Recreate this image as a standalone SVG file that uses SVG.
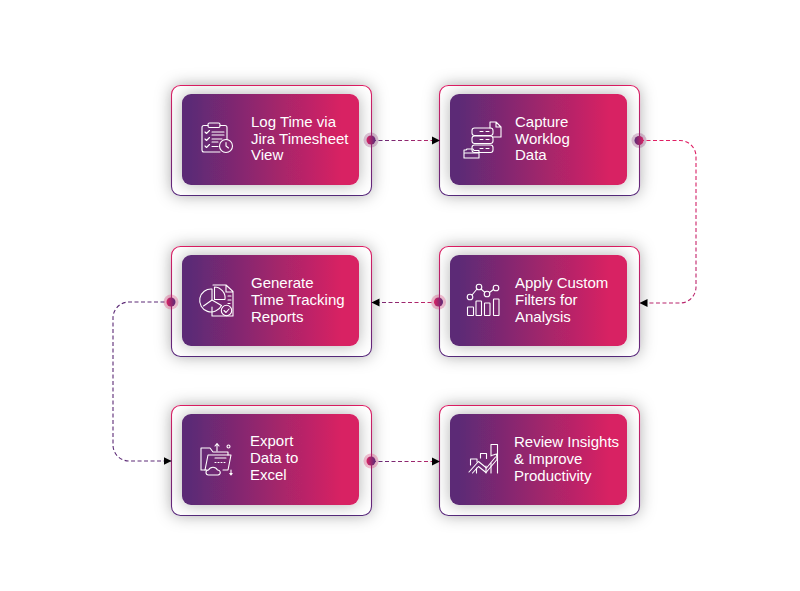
<svg xmlns="http://www.w3.org/2000/svg" width="800" height="591" viewBox="0 0 800 591">
<style>
.card{fill:#fff;stroke:url(#vb);stroke-width:1.1}
.inner{fill:url(#hg)}
.t{font-family:"Liberation Sans",Arial,sans-serif;font-size:15px;fill:#fff}
.i{fill:none;stroke:#fff;stroke-width:1.1;stroke-linejoin:round;stroke-linecap:round}
.c{fill:none;stroke-width:1.1;stroke-dasharray:4 2.500}
.halo{opacity:.28}
</style>
<defs>
<linearGradient id="hg" x1="0" x2="1" y1="0" y2="0"><stop offset=".05" stop-color="#5c2a76"/><stop offset=".9" stop-color="#d82263"/></linearGradient>
<linearGradient id="vb" x1="0" x2="0" y1="0" y2="1"><stop offset="0" stop-color="#e01f64"/><stop offset="1" stop-color="#57297c"/></linearGradient>
<linearGradient id="dot" x1="0" x2="1" y1="0" y2="0"><stop offset="0" stop-color="#5c2a76"/><stop offset="1" stop-color="#d82263"/></linearGradient>
<linearGradient id="dotr" x1="1" x2="0" y1="0" y2="0"><stop offset="0" stop-color="#5c2a76"/><stop offset="1" stop-color="#d82263"/></linearGradient>
<linearGradient id="cv" gradientUnits="userSpaceOnUse" x1="0" y1="140" x2="0" y2="303"><stop offset="0" stop-color="#e01f64"/><stop offset="1" stop-color="#b8246c"/></linearGradient>
<linearGradient id="c1" gradientUnits="userSpaceOnUse" x1="372" y1="0" x2="440" y2="0"><stop offset="0" stop-color="#5c2a76"/><stop offset="1" stop-color="#c42468"/></linearGradient>
<linearGradient id="c3" gradientUnits="userSpaceOnUse" x1="372" y1="0" x2="438" y2="0"><stop offset="0" stop-color="#6d2a74"/><stop offset="1" stop-color="#cf2366"/></linearGradient>
<filter id="sh" x="-25%" y="-40%" width="150%" height="180%"><feDropShadow dx="0" dy="0" stdDeviation="8" flood-color="#000" flood-opacity=".3"/></filter>
<filter id="sh2" x="-25%" y="-40%" width="150%" height="180%"><feDropShadow dx="0" dy="0" stdDeviation="8" flood-color="#000" flood-opacity=".3"/></filter>
<marker id="ah" markerUnits="userSpaceOnUse" markerWidth="9" markerHeight="9" refX="8" refY="4.500" orient="auto"><path d="M0 .5L8 4.500L0 8.500z" fill="#000"/></marker>
</defs>

<g id="n1">
<rect class="card" filter="url(#sh)" x="171.500" y="85.500" width="200" height="110" rx="9"/>
<rect class="inner" filter="url(#sh2)" x="182" y="94" width="177" height="91" rx="9"/>
<g class="i">
<path d="M208 125.500h-4a2 2 0 0 0-2 2v22.500a2 2 0 0 0 2 2h16M220 125.500h5a2 2 0 0 1 2 2v12"/>
<rect x="208" y="123" width="12" height="4.500" rx="1.500"/>
<path d="M205 132l1.500 1.500 3-3M205 139l1.500 1.500 3-3M205 146l1.500 1.500 3-3M212 132h12M212 135h12M212 139h10M212 142h6M212 146.500h6"/>
<circle cx="226" cy="146" r="6.500"/>
<path d="M226 142.500v3.500l2.500 2"/>
</g>
<text class="t"><tspan x="251" y="127">Log Time via</tspan><tspan x="251" y="144">Jira Timesheet</tspan><tspan x="251" y="160">View</tspan></text>
</g>

<g id="n2">
<rect class="card" filter="url(#sh)" x="439.500" y="85.500" width="200" height="110" rx="9"/>
<rect class="inner" filter="url(#sh2)" x="450" y="94" width="177" height="91" rx="9"/>
<g class="i">
<rect x="472" y="128" width="21" height="7.500" rx="2.500"/>
<rect x="472" y="136" width="21" height="7.500" rx="2.500"/>
<rect x="472" y="145" width="21" height="7.500" rx="2.500"/>
<path d="M480 131.500h3M486 131.500h3M480 139.500h3M486 139.500h3M480 148.500h3M486 148.500h3"/>
<path d="M490 128v-6h6l5 5v10h-8M496 122v5h5"/>
<path d="M479 158h-15v-8h2l1-1h6l1 1.500h5zM465 153h14"/>
</g>
<text class="t"><tspan x="515" y="127">Capture</tspan><tspan x="515" y="144">Worklog</tspan><tspan x="515" y="160">Data</tspan></text>
</g>

<g id="n3">
<rect class="card" filter="url(#sh)" x="439.500" y="246.500" width="200" height="110" rx="9"/>
<rect class="inner" filter="url(#sh2)" x="450" y="255" width="177" height="91" rx="9"/>
<g class="i">
<rect x="467.500" y="307" width="6" height="8.500" rx=".5"/>
<rect x="476" y="301" width="5.500" height="14.500" rx=".5"/>
<rect x="484.500" y="303" width="5.500" height="12.500" rx=".5"/>
<rect x="493.500" y="299" width="5.500" height="16.500" rx=".5"/>
<circle cx="470" cy="297" r="2.800"/>
<circle cx="479" cy="287" r="2.800"/>
<circle cx="487" cy="294" r="2.800"/>
<circle cx="496" cy="288" r="2.800"/>
<path d="M472 295l5-6M481 289l3.800 3.300M489.500 292.500l4-3"/>
</g>
<text class="t"><tspan x="515" y="288">Apply Custom</tspan><tspan x="515" y="305">Filters for</tspan><tspan x="515" y="322">Analysis</tspan></text>
</g>

<g id="n4">
<rect class="card" filter="url(#sh)" x="171.500" y="246.500" width="200" height="110" rx="9"/>
<rect class="inner" filter="url(#sh2)" x="182" y="255" width="177" height="91" rx="9"/>
<g class="i">
<path d="M212 289a11.500 11.500 0 1 0 9.500 16.500l-9.500-5.500z"/>
<path d="M212 300l-8.500 6"/>
<path d="M214.500 287v12.500h10.500a11 11 0 0 0-10.500-12.500z"/>
<path d="M213 285h13l7 6.500v24.500h-21v-9M233 292h-7v-7"/>
<path d="M228 296h3M228 300h3M228 303.500h2"/>
<circle cx="226.500" cy="310.500" r="5.200"/>
<path d="M224 310.500l2 2 3-3.500"/>
</g>
<text class="t"><tspan x="251" y="288">Generate</tspan><tspan x="251" y="305">Time Tracking</tspan><tspan x="251" y="322">Reports</tspan></text>
</g>

<g id="n5">
<rect class="card" filter="url(#sh)" x="171.500" y="405.500" width="200" height="110" rx="9"/>
<rect class="inner" filter="url(#sh2)" x="182" y="414" width="177" height="91" rx="9"/>
<g class="i">
<path d="M205 470h-4v-22h9l3 4h15v3"/>
<path d="M205 470l3-15h23l-3 15h-5M205 470h2"/>
<path d="M209 475h-.5a2.500 2.500 0 0 1 0-5a5 5 0 0 1 9 0a2.500 2.500 0 0 1 .5 5z"/>
<path d="M217 451v-7M215 446l2-2.500 2 2.500"/>
<circle cx="228.500" cy="446.500" r="1.500"/>
<path d="M231 470v4"/><path d="M229.800 473.500h2.400l-1.200 1.500z"/>
<path d="M215 458h11M215 462.500h1M218 462.500h1M221 462.500h1M224 462.500h1"/>
</g>
<text class="t"><tspan x="250" y="446">Export</tspan><tspan x="250" y="463">Data to</tspan><tspan x="250" y="480">Excel</tspan></text>
</g>

<g id="n6">
<rect class="card" filter="url(#sh)" x="439.500" y="405.500" width="200" height="110" rx="9"/>
<rect class="inner" filter="url(#sh2)" x="450" y="414" width="177" height="91" rx="9"/>
<g class="i">
<path d="M470.500 465v-6h6.500v3M480.500 458v-4.500h6v5M491 456v-11.500h6.500v28.500M476.500 473v-5M486 473v-7M491 473v-10"/>
<path d="M469 472l9.500-10.500 8 6.500 9-11"/>
<path d="M472.500 473l6-6.500 7.500 6 11-13"/>
<path d="M491.500 455.500l5-1.500 .5 5"/>
</g>
<text class="t"><tspan x="514" y="447">Review Insights</tspan><tspan x="514" y="464">&amp; Improve</tspan><tspan x="514" y="481">Productivity</tspan></text>
</g>

<g id="connectors">
<path class="c" stroke="url(#c1)" marker-end="url(#ah)" d="M372 140.500H440"/>
<path class="c" stroke="url(#cv)" marker-end="url(#ah)" d="M640 140.500H680a16 16 0 0 1 16 16V287a16 16 0 0 1-16 16H639.500"/>
<path class="c" stroke="url(#c3)" marker-end="url(#ah)" d="M438 302.500H371.500"/>
<path class="c" stroke="#5c2a76" marker-end="url(#ah)" d="M171 302H129a16 16 0 0 0-16 16V445a16 16 0 0 0 16 16H171.500"/>
<path class="c" stroke="url(#c1)" marker-end="url(#ah)" d="M372 461.500H440"/>
<circle class="halo" cx="371" cy="140" r="7.500" fill="#8a2a70"/><circle cx="371" cy="140" r="4.500" fill="url(#dotr)"/>
<circle class="halo" cx="639" cy="140.500" r="7.500" fill="#8a2a70"/><circle cx="639" cy="140.500" r="4.500" fill="url(#dot)"/>
<circle class="halo" cx="438.500" cy="302" r="7.500" fill="#d82263"/><circle cx="438.500" cy="302" r="4.500" fill="url(#dotr)"/>
<circle class="halo" cx="171" cy="302" r="7.500" fill="#d82263"/><circle cx="171" cy="302" r="4.500" fill="url(#dotr)"/>
<circle class="halo" cx="371" cy="461" r="7.500" fill="#d82263"/><circle cx="371" cy="461" r="4.500" fill="url(#dotr)"/>
</g>
</svg>
